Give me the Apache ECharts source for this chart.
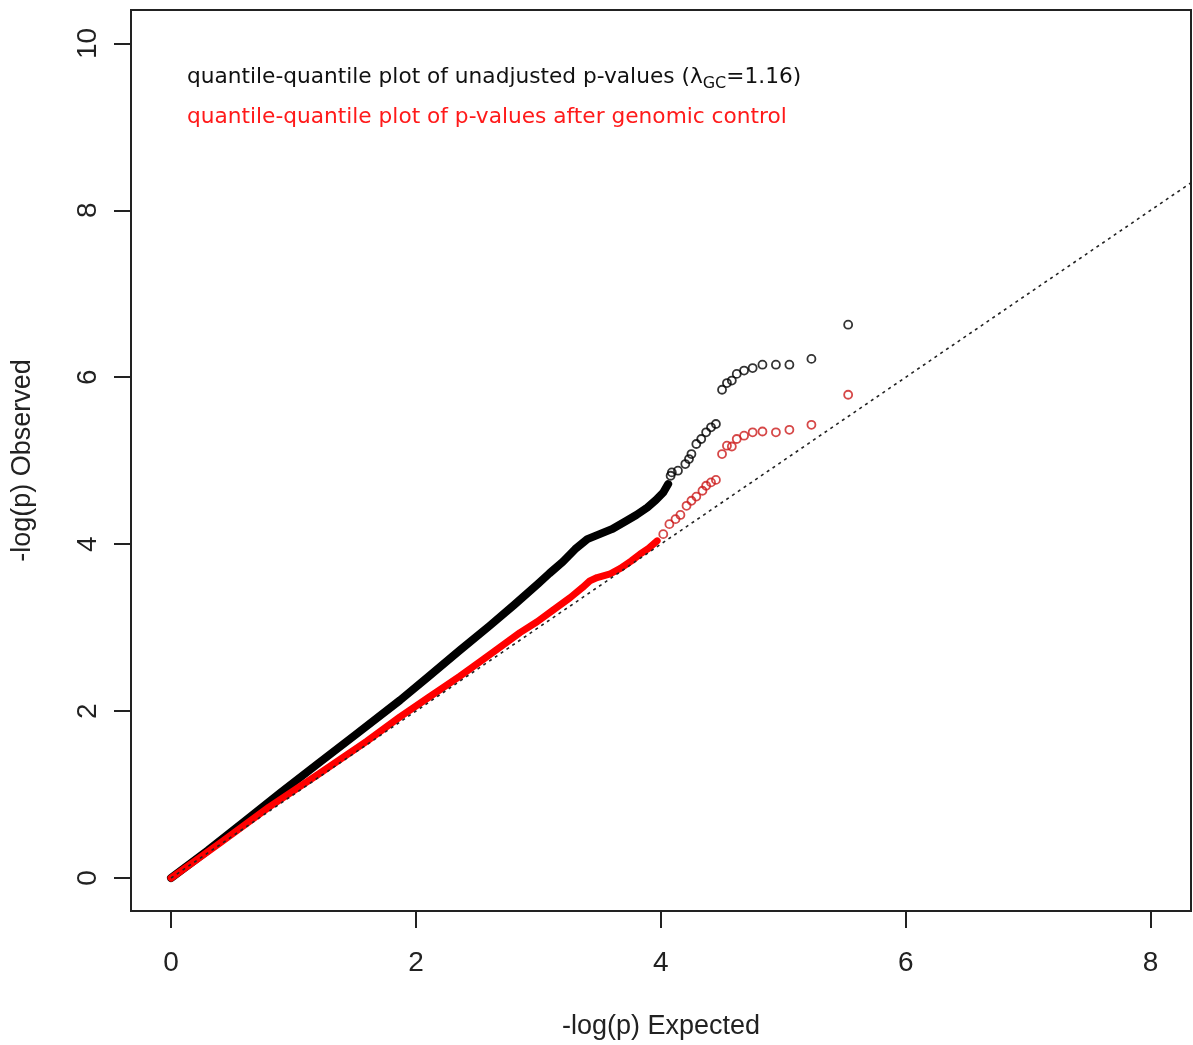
<!DOCTYPE html>
<html>
<head>
<meta charset="utf-8">
<script src="https://cdn.jsdelivr.net/npm/echarts@6/dist/echarts.min.js"></script>
<style>
  html, body { margin: 0; padding: 0; background: #fff; }
  #chart { width: 1193px; height: 1045px; }
</style>
</head>
<body>
<div id="chart"></div>
<script>
// tick labels
var xTicks = [0, 2, 4, 6, 8];
var yTicks = [0, 2, 4, 6, 8, 10];

// dense part of the unadjusted q-q points [expected, observed]
var rawDense = [
  [0, 0], [0.3, 0.33], [0.6, 0.68], [0.9, 1.03], [1.2, 1.37], [1.5, 1.71],
  [1.87, 2.13], [2.1, 2.41], [2.36, 2.73], [2.6, 3.02], [2.8, 3.27], [3.0, 3.53],
  [3.09, 3.65], [3.2, 3.79], [3.3, 3.94], [3.4, 4.06], [3.5, 4.12], [3.6, 4.18],
  [3.72, 4.28], [3.8, 4.35], [3.89, 4.44], [3.96, 4.53], [4.02, 4.62], [4.06, 4.72]
];
// sparse unadjusted points
var rawSparse = [
  [4.08, 4.82], [4.09, 4.86], [4.14, 4.88], [4.20, 4.96], [4.23, 5.02], [4.25, 5.08],
  [4.29, 5.20], [4.33, 5.26], [4.37, 5.34], [4.41, 5.40], [4.45, 5.44],
  [4.50, 5.85], [4.54, 5.93], [4.58, 5.96], [4.62, 6.04], [4.68, 6.08], [4.75, 6.11],
  [4.83, 6.15], [4.94, 6.15], [5.05, 6.15], [5.23, 6.22], [5.53, 6.63]
];

// dense part of the genomic-control q-q points
var gcDense = [
  [0, 0], [0.4, 0.42], [0.8, 0.85], [1.2, 1.24], [1.6, 1.64], [1.87, 1.93],
  [2.1, 2.16], [2.36, 2.42], [2.55, 2.62], [2.71, 2.79], [2.85, 2.94], [2.99, 3.07],
  [3.12, 3.21], [3.26, 3.36], [3.36, 3.48], [3.42, 3.56], [3.48, 3.60], [3.58, 3.64],
  [3.67, 3.71], [3.76, 3.80], [3.83, 3.88], [3.9, 3.95], [3.97, 4.04]
];
// sparse genomic-control points
var gcSparse = [
  [4.02, 4.12], [4.07, 4.24], [4.12, 4.30], [4.16, 4.35], [4.21, 4.46], [4.25, 4.52],
  [4.29, 4.57], [4.34, 4.64], [4.37, 4.70], [4.41, 4.74], [4.45, 4.77],
  [4.50, 5.08], [4.54, 5.18], [4.58, 5.17], [4.62, 5.26], [4.68, 5.30], [4.75, 5.34],
  [4.83, 5.35], [4.94, 5.34], [5.05, 5.37], [5.23, 5.43], [5.53, 5.79]
];

// y = x reference line
var diagLine = [[0, 0], [9, 9]];

var font = 'Liberation Sans, Arial, sans-serif';
var legendFont = 'DejaVu Sans, sans-serif';

var chart = echarts.init(document.getElementById('chart'));
chart.setOption({
  backgroundColor: '#fff',
  animation: false,
  grid: {
    left: 131, top: 10, right: 2, bottom: 134,
    show: true, borderColor: '#222', borderWidth: 2
  },
  graphic: [
    {
      type: 'text', left: 187, top: 66,
      style: {
        text: '{t|quantile-quantile plot of unadjusted p-values (λ}{s|GC}{t|=1.16)}',
        rich: {
          t: { fontFamily: legendFont, fontSize: 21.7, fill: '#111' },
          s: { fontFamily: legendFont, fontSize: 16, fill: '#111', padding: [14, 0, 0, 0] }
        }
      }
    },
    {
      type: 'text', left: 187, top: 106,
      style: {
        text: 'quantile-quantile plot of p-values after genomic control',
        fontFamily: legendFont, fontSize: 21.7, fill: '#ff1a1a'
      }
    }
  ],
  xAxis: {
    type: 'value', min: -0.327, max: 8.33,
    name: '-log(p) Expected', nameLocation: 'middle', nameGap: 102,
    nameTextStyle: { fontFamily: font, fontSize: 27, color: '#222' },
    axisLine: { show: false, onZero: false },
    axisTick: { show: true, inside: false, length: 17, customValues: xTicks,
      lineStyle: { color: '#222', width: 2 } },
    axisLabel: { customValues: xTicks, margin: 38, fontFamily: font, fontSize: 28, color: '#222' },
    splitLine: { show: false }
  },
  yAxis: {
    type: 'value', min: -0.395, max: 10.4,
    name: '-log(p) Observed', nameLocation: 'middle', nameGap: 95, nameRotate: 90,
    nameTextStyle: { fontFamily: font, fontSize: 27, color: '#222' },
    axisLine: { show: false, onZero: false },
    axisTick: { show: true, inside: false, length: 17, customValues: yTicks,
      lineStyle: { color: '#222', width: 2 } },
    axisLabel: { customValues: yTicks, rotate: 90, margin: 29, fontFamily: font, fontSize: 28, color: '#222' },
    splitLine: { show: false }
  },
  series: [
    {
      type: 'line', data: rawDense, symbol: 'none', z: 2,
      lineStyle: { color: '#000', width: 8, cap: 'round', join: 'round' }
    },
    {
      type: 'scatter', data: rawSparse, symbol: 'circle', symbolSize: 8, z: 2,
      itemStyle: { color: 'rgba(255,255,255,0)', borderColor: '#000', borderWidth: 1.8 }
    },
    {
      type: 'line', data: gcDense, symbol: 'none', z: 3,
      lineStyle: { color: '#f00', width: 7, cap: 'round', join: 'round' }
    },
    {
      type: 'scatter', data: gcSparse, symbol: 'circle', symbolSize: 8, z: 3,
      itemStyle: { color: 'rgba(255,255,255,0)', borderColor: '#cc1a1a', borderWidth: 1.8 }
    },
    {
      type: 'line', data: diagLine, symbol: 'none', z: 4, clip: true,
      lineStyle: { color: '#222', width: 1.6, type: [3, 4] }
    }
  ]
});
</script>
</body>
</html>
